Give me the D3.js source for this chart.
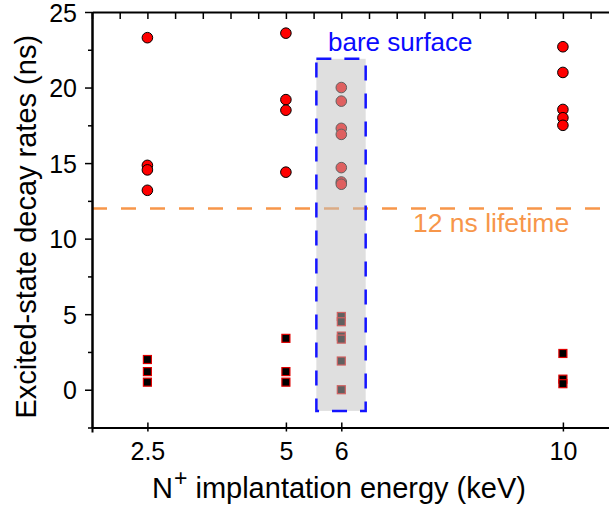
<!DOCTYPE html>
<html>
<head>
<meta charset="utf-8">
<script src="https://cdn.jsdelivr.net/npm/d3@7"></script>
<style>
  html, body { margin: 0; padding: 0; background: #fff; }
  svg { display: block; font-family: "Liberation Sans", Arial, sans-serif; }
</style>
</head>
<body>
<svg id="chart" width="609" height="509"></svg>
<script>
// Implantation energies (keV) and the fitted decay components at each energy
const energyKeV = [2.5, 5, 6, 10];
const energyLabels = ["2.5", "5", "6", "10"];

// Long (slow) component, ns — one list per energy
const longComponent = [
  [23.3, 14.85, 14.55, 13.2],
  [23.6, 19.2, 18.5, 14.4],
  [20.0, 19.1, 17.3, 16.9, 14.7, 13.75, 13.6],
  [22.7, 21.0, 18.55, 18.0, 17.5]
];

// Short (fast) component, ns — one list per energy
const shortComponent = [
  [2.0, 1.2, 0.5],
  [3.4, 1.2, 0.5],
  [4.85, 4.5, 3.55, 3.35, 1.9, 0.0],
  [2.4, 0.7, 0.4]
];

const yMajorTicks = [0, 5, 10, 15, 20, 25];
const yMinorTicks = [-2.5, 2.5, 7.5, 12.5, 17.5, 22.5];
const referenceLifetime = 12;          // ns
const bareSurfaceLabel = "bare surface";
const lifetimeLabel = "12 ns lifetime";

// Highlighted bare-surface sample (energy 6 keV)
const bareBox = { x0: 5.55, x1: 6.44, y0: -1.4, y1: 21.9 };

(function draw() {
  const svg = d3.select("#chart");
  const W = 609, H = 509;
  const mLeft = 92, mTop = 12, mBottom = 427.5;

  const x = d3.scaleLinear().domain([1.5, 11]).range([mLeft, mLeft + 9.5 * 55.4]);
  const y = d3.scaleLinear().domain([-2.5, 25]).range([mBottom, mTop]);

  const clipId = "plotclip";
  svg.append("defs").append("clipPath").attr("id", clipId)
    .append("rect").attr("x", 0).attr("y", 0).attr("width", W).attr("height", H);

  const root = svg.append("g").attr("clip-path", `url(#${clipId})`);

  // Reference lifetime line
  root.append("line")
    .attr("x1", mLeft).attr("x2", W + 10)
    .attr("y1", y(referenceLifetime)).attr("y2", y(referenceLifetime))
    .attr("stroke", "#f7964a").attr("stroke-width", 2.5)
    .attr("stroke-dasharray", "15,14");

  // Flatten series into points
  const longPts = [], shortPts = [];
  energyKeV.forEach((e, i) => {
    longComponent[i].forEach(v => longPts.push({ e, v }));
    shortComponent[i].forEach(v => shortPts.push({ e, v }));
  });

  const sq = 8;
  root.append("g").selectAll("rect").data(shortPts).join("rect")
    .attr("x", d => x(d.e) - sq / 2).attr("y", d => y(d.v) - sq / 2)
    .attr("width", sq).attr("height", sq)
    .attr("fill", "#000").attr("stroke", "#e00000").attr("stroke-width", 1.2);

  root.append("g").selectAll("circle").data(longPts).join("circle")
    .attr("cx", d => x(d.e)).attr("cy", d => y(d.v)).attr("r", 5.3)
    .attr("fill", "#ff0000").attr("stroke", "#000").attr("stroke-width", 1);

  // Translucent shading over the bare-surface column
  root.append("rect")
    .attr("x", x(bareBox.x0)).attr("y", y(bareBox.y1))
    .attr("width", x(bareBox.x1) - x(bareBox.x0))
    .attr("height", y(bareBox.y0) - y(bareBox.y1))
    .attr("fill", "rgba(192,192,192,0.5)");

  root.append("rect")
    .attr("x", x(bareBox.x0)).attr("y", y(bareBox.y1))
    .attr("width", x(bareBox.x1) - x(bareBox.x0))
    .attr("height", y(bareBox.y0) - y(bareBox.y1))
    .attr("fill", "none").attr("stroke", "#1414ff").attr("stroke-width", 2.5)
    .attr("stroke-dasharray", "15,13");

  // Annotations
  root.append("text").attr("x", 328).attr("y", 51)
    .attr("font-size", 26).attr("fill", "#0a0aff").text(bareSurfaceLabel);
  root.append("text").attr("x", 413).attr("y", 232)
    .attr("font-size", 26.5).attr("fill", "#f7964a").text(lifetimeLabel);

  // Axes
  function styleAxis(g) {
    g.selectAll("path.domain").attr("stroke", "#000").attr("stroke-width", 2);
    g.selectAll(".tick line").attr("stroke", "#000").attr("stroke-width", 1.5);
    g.selectAll(".tick text").attr("fill", "#000")
      .attr("font-family", "'Liberation Sans', Arial, sans-serif");
  }

  // Left: labelled major ticks + short minor ticks
  root.append("g").attr("transform", `translate(${mLeft},0)`)
    .call(d3.axisLeft(y).tickValues(yMinorTicks).tickSize(4).tickSizeOuter(0).tickFormat(""))
    .call(styleAxis);
  const yAx = root.append("g").attr("transform", `translate(${mLeft},0)`)
    .call(d3.axisLeft(y).tickValues(yMajorTicks).tickSize(7).tickSizeOuter(0)
      .tickPadding(8).tickFormat(d3.format("d")))
    .call(styleAxis);
  yAx.selectAll(".tick text").attr("font-size", 25).attr("dy", "0.36em");

  // Top: inward ticks every 0.5 keV
  root.append("g").attr("transform", `translate(0,${mTop})`)
    .call(d3.axisTop(x).tickValues(d3.range(1.5, 11.01, 0.5)).tickSize(-7)
      .tickSizeOuter(0).tickFormat(""))
    .call(styleAxis);

  // Bottom: ticks at the measured energies, crossing the spine
  const xAx = root.append("g").attr("transform", `translate(0,${mBottom})`)
    .call(d3.axisBottom(x).tickValues(energyKeV).tickSize(4).tickSizeOuter(5)
      .tickPadding(11).tickFormat((d, i) => energyLabels[i]))
    .call(styleAxis);
  xAx.selectAll(".tick line").attr("y1", -5).attr("y2", 4);
  xAx.selectAll(".tick text").attr("font-size", 25);

  // Axis titles
  const xt = svg.append("text").attr("x", 152).attr("y", 498)
    .attr("font-size", 29).attr("fill", "#000");
  xt.append("tspan").text("N");
  xt.append("tspan").attr("font-size", 23).attr("dy", -12).attr("dx", 1).text("+");
  xt.append("tspan").attr("dy", 12).text(" implantation energy (keV)");

  svg.append("text")
    .attr("transform", `translate(36,${(mTop + mBottom) / 2 + 7}) rotate(-90)`)
    .attr("text-anchor", "middle").attr("font-size", 29).attr("fill", "#000")
    .text("Excited-state decay rates (ns)");
})();
</script>
</body>
</html>
